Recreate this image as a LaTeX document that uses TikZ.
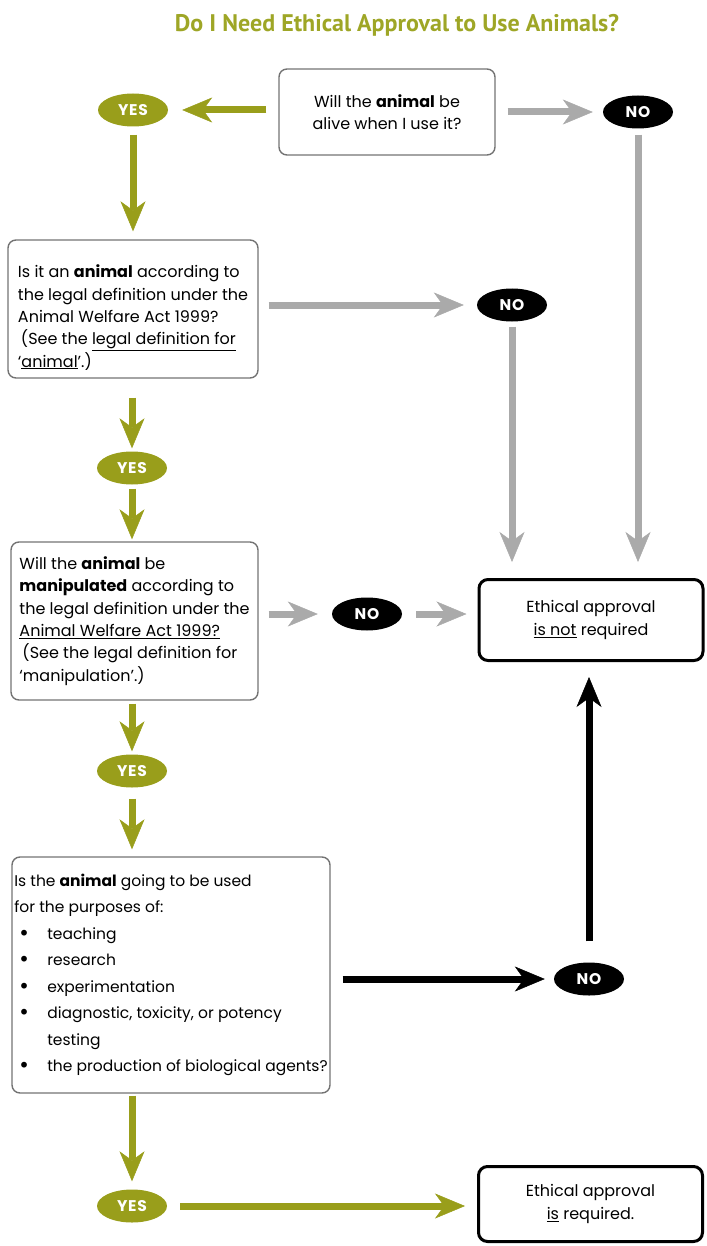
\documentclass[tikz,border=0pt]{standalone}
\usepackage{fontspec}
\setmainfont{Poppins}
\newfontfamily\titlefont{PT Sans}
\usetikzlibrary{arrows.meta, shapes.geometric}

\definecolor{yesgreen}{RGB}{153,158,27}
\definecolor{titlegreen}{RGB}{158,166,38}
\definecolor{nogray}{RGB}{170,170,170}
\definecolor{boxgray}{RGB}{115,115,115}

\newcommand{\itemdot}{\hspace*{5pt}\makebox[28pt][l]{\fontsize{19}{19}\selectfont\bfseries•}}

\tikzset{
  qbox/.style={draw=boxgray, line width=1.4pt, rounded corners=8pt, inner sep=0pt, align=left, font=\fontsize{16}{22.3}\selectfont},
  endbox/.style={draw=black, line width=3pt, rounded corners=9pt, inner sep=0pt, align=center, font=\fontsize{16}{23}\selectfont},
  yesball/.style={ellipse, fill=yesgreen, text=white, minimum width=70pt, minimum height=33pt, inner sep=0pt, font=\fontsize{15.5}{15.5}\selectfont\bfseries\addfontfeatures{LetterSpace=5}},
  noball/.style={yesball, fill=black},
  olivearrow/.style={yesgreen, line width=7pt, -{Stealth[length=30pt, width=25pt, inset=9pt, line width=0.5pt 0 0]}},
  grayarrow/.style={olivearrow, nogray},
  blackarrow/.style={olivearrow, black}
}

\begin{document}
\begin{tikzpicture}[x=1pt, y=-1pt]
\useasboundingbox (0,0) rectangle (706,1246);
\node[text=titlegreen, font=\titlefont\fontsize{24}{24}\selectfont\bfseries] (title) at (397,25) {Do I Need Ethical Approval to Use Animals?};

% questions
\node[qbox, align=center, minimum width=216pt, minimum height=86pt] (q1) at (387,112) {Will the \textbf{animal} be\\alive when I use it?};
\node[qbox, minimum width=250pt, minimum height=138pt] (q2) at (133,309) {\rule{0pt}{30pt}Is it an \textbf{animal} according to\\the legal definition under the\\Animal Welfare Act 1999?\\\hspace*{3pt}(See the \underline{legal definition for}\\`\underline{animal}'.)};
\node[qbox, minimum width=247pt, minimum height=158pt] (q3) at (134.5,621) {Will the \textbf{animal} be\\\textbf{manipulated} according to\\the legal definition under the\\\underline{Animal Welfare Act 1999?}\\\hspace*{3pt}(See the legal definition for\\`manipulation'.)};
\node[qbox, minimum width=318pt, minimum height=236pt, font=\fontsize{15.5}{26.5}\selectfont] (q4) at (171,975) {Is the \textbf{animal} going to be used\\for the purposes of:\\
\itemdot teaching\\
\itemdot research\\
\itemdot experimentation\\
\itemdot diagnostic, toxicity, or potency\\
\hspace*{33pt}testing\\
\itemdot the production of biological agents?};

% answers
\node[yesball] (yes1) at (133,110) {YES};
\node[yesball] (yes2) at (132,468) {YES};
\node[yesball] (yes3) at (132,771) {YES};
\node[yesball] (yes4) at (132,1206) {YES};
\node[noball] (no1) at (638,112) {NO};
\node[noball] (no2) at (512,305) {NO};
\node[noball] (no3) at (367,614) {NO};
\node[noball] (no4) at (589,979) {NO};

% outcomes
\node[endbox, minimum width=224pt, minimum height=81pt] (notreq) at (591,620) {Ethical approval\\\underline{is not} required};
\node[endbox, minimum width=224pt, minimum height=75pt] (req) at (590.5,1204) {Ethical approval\\\underline{is} required.};

% arrows
\draw[olivearrow, shorten <=12pt, shorten >=14pt] (q1.west |- yes1) -- (yes1.east);
\draw[grayarrow, shorten <=12pt, shorten >=10pt] (q1.east |- no1) -- (no1.west);
\draw[olivearrow, shorten <=8pt, shorten >=8pt] (yes1.south) -- (yes1 |- q2.north);
\draw[grayarrow, shorten <=10pt, shorten >=13pt] (q2.east |- no2) -- (no2.west);
\draw[grayarrow, shorten <=6pt, shorten >=16pt] (no1.south) -- (no1 |- notreq.north);
\draw[grayarrow, shorten <=5pt, shorten >=16pt] (no2.south) -- (no2 |- notreq.north);
\draw[olivearrow, shorten <=19pt, shorten >=3pt] (yes2 |- q2.south) -- (yes2.north);
\draw[olivearrow, shorten <=4pt, shorten >=2pt] (yes2.south) -- (yes2 |- q3.north);
\draw[grayarrow, shorten <=10pt, shorten >=14pt] (q3.east |- no3) -- (no3.west);
\draw[grayarrow, shorten <=14pt, shorten >=11pt] (no3.east) -- (no3 -| notreq.west);
\draw[olivearrow, shorten <=3pt, shorten >=3pt] (yes3 |- q3.south) -- (yes3.north);
\draw[olivearrow, shorten <=11pt, shorten >=7pt] (yes3.south) -- (yes3 |- q4.north);
\draw[blackarrow, shorten <=12pt, shorten >=9pt] (q4.east |- no4) -- (no4.west);
\draw[blackarrow, shorten <=21pt, shorten >=15pt] (no4.north) -- (no4 |- notreq.south);
\draw[olivearrow, shorten <=2pt, shorten >=8pt] (yes4 |- q4.south) -- (yes4.north);
\draw[olivearrow, shorten <=13pt, shorten >=12pt] (yes4.east) -- (yes4 -| req.west);
\end{tikzpicture}
\end{document}
